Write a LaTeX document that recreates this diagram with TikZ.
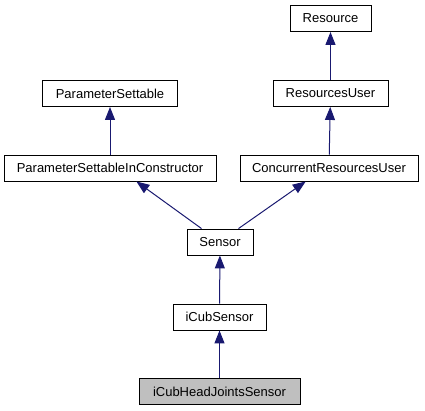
\documentclass[tikz,border=0pt]{standalone}
\usepackage{fontspec}
\setmainfont{Liberation Sans}
\usetikzlibrary{arrows.meta}
\definecolor{edgeblue}{HTML}{191970}
\definecolor{boxgray}{HTML}{BFBFBF}
\begin{document}
\begin{tikzpicture}[x=1bp,y=-1bp,
    cls/.style={draw=black,line width=0.9bp,fill=white,inner sep=0pt,
      minimum height=26bp,font=\fontsize{13bp}{15bp}\selectfont},
    inherit/.style={draw=edgeblue,line width=1bp,
      {Triangle[length=13bp,width=10bp]}-}]
      \path[use as bounding box] (0,0) rectangle (425,411);
      \path
        (330.5,18.5) node[cls,minimum width=81bp] (resource){Resource}
        (110,93.5) node[cls,minimum width=135bp] (psettable){ParameterSettable}
        (330.5,93.5) node[cls,minimum width=115bp] (resuser){ResourcesUser}
        (110,168) node[cls,minimum width=212bp] (psic){ParameterSettableInConstructor}
        (329,168) node[cls,minimum width=178bp] (conresuser){ConcurrentResourcesUser}
        (220,242) node[cls,minimum width=66bp] (sensor){Sensor}
        (219.5,317) node[cls,minimum width=93bp] (icubsensor){iCubSensor}
        (219.5,391.5) node[cls,fill=boxgray,minimum width=161bp] (headjoints){iCubHeadJointsSensor};
      \begin{scope}[inherit]
        \draw (resource) to (resuser);
        \draw (resuser) to (conresuser);
        \draw (psettable) to (psic);
        \draw (psic.-27) to (sensor.144);
        \draw (conresuser.210) to (sensor.36);
        \draw (sensor) to (icubsensor);
        \draw (icubsensor) to (headjoints);
      \end{scope}
    \end{tikzpicture}
\end{document}
